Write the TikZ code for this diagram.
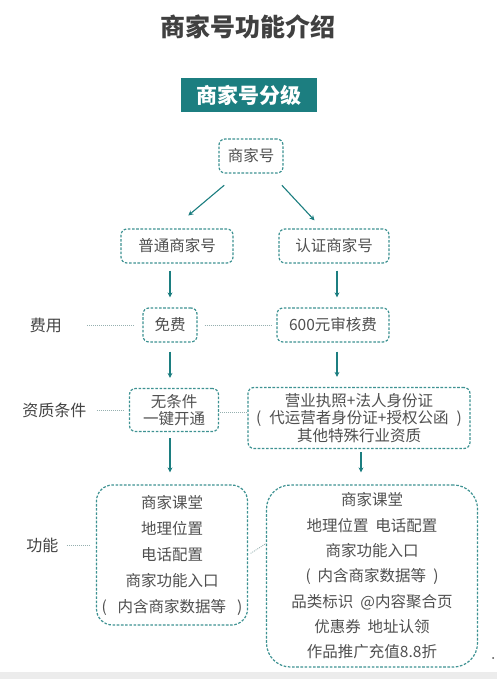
\documentclass[tikz,border=0pt]{standalone}
\usepackage{fontspec}
\setmainfont{Noto Sans CJK SC}
\usetikzlibrary{arrows.meta,positioning}
\definecolor{tealdark}{RGB}{28,126,128}
\definecolor{tealline}{RGB}{62,146,146}
\definecolor{textgray}{RGB}{80,80,80}
\definecolor{dotgray}{RGB}{150,176,176}
\definecolor{bandgray}{RGB}{236,236,236}

\begin{document}
\begin{tikzpicture}[x=1pt, y=-1pt,
  card/.style={draw=tealline, line width=1.2pt, dash pattern=on 2.6pt off 1.6pt, rounded corners=6pt, align=center, inner sep=0pt, text=textgray, font=\fontsize{15.5}{17.5}\selectfont},
  tag/.style={text=textgray!85!black, font=\fontsize{16}{18}\selectfont},
  arr/.style={-{Stealth[length=5pt, width=5pt]}, draw=tealdark, line width=1.1pt},
  guide/.style={draw=dotgray, line width=0.8pt, dash pattern=on 1pt off 1pt}
]
\fill[white] (0,0) rectangle (497,679);
\useasboundingbox (0,0) rectangle (497,679);
\fill[bandgray] (0,672) rectangle (497,679);

\node[font=\bfseries\fontsize{25}{28}\selectfont, text=textgray!80!black] (title) at (248,27) {商家号功能介绍};
\node[fill=tealdark, text=white, font=\bfseries\fontsize{21}{24}\selectfont, minimum width=136pt, minimum height=34pt] (grade) at (249,95) {商家号分级};

% account types
\node[card, minimum width=64pt, minimum height=34pt] (acct) at (251,156) {商家号};
\node[card, minimum width=112pt, minimum height=34pt] (plain) at (177,246) {普通商家号};
\node[card, minimum width=110pt, minimum height=34pt] (cert) at (334,246) {认证商家号};

% fees
\node[card, minimum width=54pt, minimum height=34pt] (free) at (170,325) {免费};
\node[card, minimum width=112pt, minimum height=34pt] (fee) at (333,325) {600元审核费};
\node[tag, left=77pt of free] (feeTag) {费用};

% qualification
\node[card, minimum width=89pt, minimum height=43pt, font=\fontsize{15.5}{16.5}\selectfont] (cond) at (174,410) {无条件\\一键开通};
\node[card, minimum width=222pt, minimum height=61pt] (qual) at (359,418) {营业执照+法人身份证\\(\hspace{8pt}代运营者身份证+授权公函\hspace{8pt})\\其他特殊行业资质};
\node[tag, left=39pt of cond] (qualTag) {资质条件};

% features
\node[card, rounded corners=16pt, minimum width=151pt, minimum height=140pt, font=\fontsize{15.5}{26}\selectfont] (featL) at (172,555) {商家课堂\\地理位置\\电话配置\\商家功能入口\\(\hspace{11pt}内含商家数据等\hspace{11pt})};
\node[card, rounded corners=24pt, minimum width=211pt, minimum height=182pt, font=\fontsize{15.5}{25.3}\selectfont] (featR) at (372,576) {商家课堂\\地理位置\ \ 电话配置\\商家功能入口\\(\hspace{7pt}内含商家数据等\hspace{7pt})\\品类标识\ \ @内容聚合页\\优惠券\ \ 地址认领\\作品推广充值8.8折};
\node[tag, left=34pt of featL.west, yshift=10pt] (featTag) {功能};

\draw[arr, shorten <=18pt, shorten >=20pt] ([xshift=-13pt]acct.south) -- ([xshift=-4pt]plain.north);
\draw[arr, shorten <=16pt, shorten >=11pt] ([xshift=20pt]acct.south) -- ([xshift=-12pt]cert.north);
\draw[arr, shorten <=7pt, shorten >=10pt] (plain.south -| free.north) -- (free.north);
\draw[arr, shorten <=7pt, shorten >=10pt] ([xshift=3pt]cert.south) -- ([xshift=3pt]cert.south |- fee.north);
\draw[arr, shorten <=9pt, shorten >=10pt] (free.south) -- (free.south |- cond.north);
\draw[arr, shorten <=9pt, shorten >=10pt] ([xshift=4pt]fee.south) -- ([xshift=4pt]fee.south |- qual.north);
\draw[arr, shorten <=6pt, shorten >=12pt] (cond.south -| free.south) -- (free.south |- featL.north);
\draw[arr, shorten <=3pt, shorten >=12pt] ([xshift=2pt]qual.south) -- ([xshift=2pt]qual.south |- featR.north);

\draw[guide, shorten <=22pt, shorten >=8pt] (feeTag.east) -- (free.west);
\draw[guide, shorten <=7pt, shorten >=4pt] (free.east) -- (fee.west);
\draw[guide, shorten <=7pt, shorten >=4pt] (qualTag.east) -- (cond.west);
\draw[guide, shorten <=1pt] ([yshift=-2pt]cond.east) -- ([yshift=-2pt]cond.east -| qual.west);
\draw[guide, shorten <=5pt, shorten >=6pt] (featTag.east) -- (featTag.east -| featL.west);
\draw[guide, shorten <=3pt] (featL.east) -- (featR.163);

\fill[black!70] (493,658) circle (1pt);
\end{tikzpicture}
\end{document}
